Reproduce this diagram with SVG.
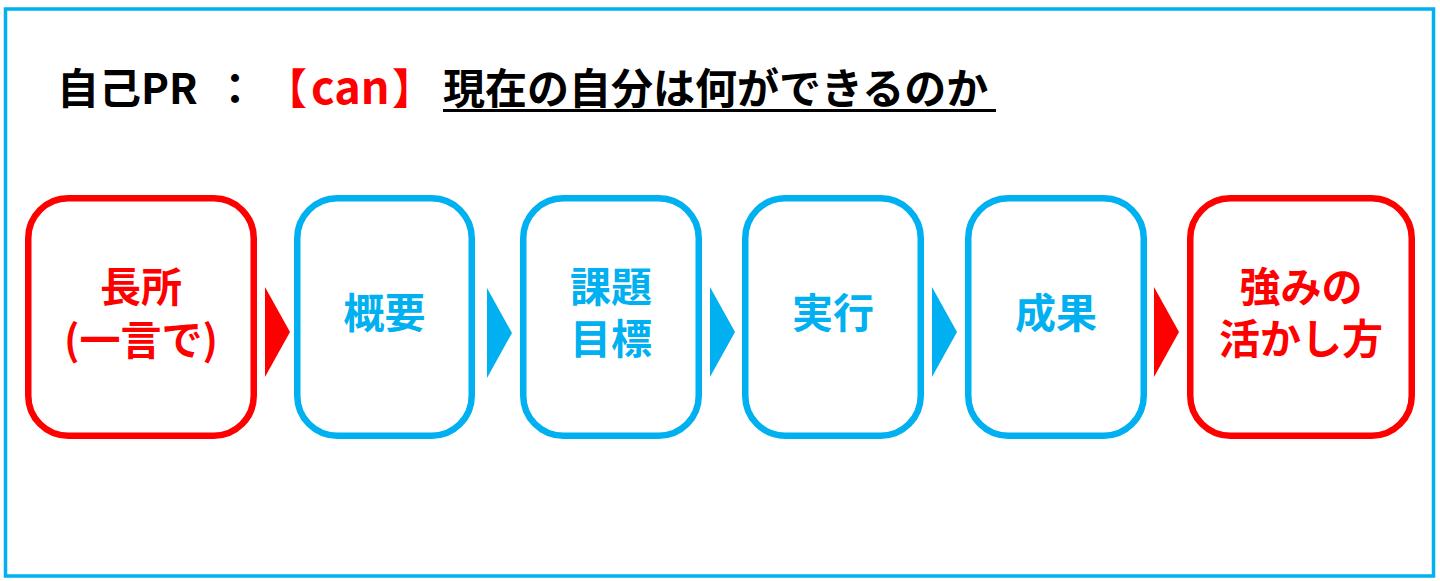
<svg xmlns="http://www.w3.org/2000/svg" width="1440" height="581" viewBox="0 0 1440 581">
<style>
.t{font-family:"Noto Sans CJK JP","Noto Sans",sans-serif;font-weight:bold;}
.title{font-size:42px;fill:#000;}
.lbl{font-size:41px;text-anchor:middle;}
.red{fill:#FF0000;}
.blue{fill:#00B0F0;}
.box{fill:#FFFFFF;stroke-width:6.5;}
.rb{stroke:#FF0000;}
.bb{stroke:#00B0F0;}
</style>
<rect x="5.5" y="9" width="1428" height="567" fill="#FFFFFF" stroke="#00B0F0" stroke-width="3.5"/>
<g id="title">
<text class="t title" x="57" y="104">自己PR</text>
<text class="t title" x="214" y="104">：</text>
<text class="t title red" x="265" y="104">【<tspan font-size="45" x="311">can</tspan><tspan x="392">】</tspan></text>
<text class="t title" x="443" y="104">現在の自分は何ができるのか</text>
<line x1="443" y1="110.5" x2="996" y2="110.5" stroke="#000" stroke-width="3"/>
</g>
<g id="connectors">
<polygon points="265,287 290,332 265,377" fill="#FF0000"/>
<polygon points="487,288 512,333 487,378" fill="#00B0F0"/>
<polygon points="710,287 735,332 710,377" fill="#00B0F0"/>
<polygon points="932,287 957,332 932,377" fill="#00B0F0"/>
<polygon points="1154,287 1179,332 1154,377" fill="#FF0000"/>
</g>
<g id="n1">
<rect class="box rb" x="28.25" y="198.25" width="225.5" height="237.5" rx="40"/>
<text class="t lbl red" x="141" y="302">長所<tspan x="141" y="355">(一言で)</tspan></text>
</g>
<g id="n2">
<rect class="box bb" x="297.25" y="198.25" width="174.5" height="237.5" rx="40"/>
<text class="t lbl blue" x="384.5" y="328">概要</text>
</g>
<g id="n3">
<rect class="box bb" x="523.25" y="198.25" width="175.5" height="237.5" rx="40"/>
<text class="t lbl blue" x="611" y="302">課題<tspan x="611" y="354">目標</tspan></text>
</g>
<g id="n4">
<rect class="box bb" x="745.25" y="198.25" width="175.5" height="237.5" rx="40"/>
<text class="t lbl blue" x="833" y="328">実行</text>
</g>
<g id="n5">
<rect class="box bb" x="968.25" y="198.25" width="175.5" height="237.5" rx="40"/>
<text class="t lbl blue" x="1056" y="328">成果</text>
</g>
<g id="n6">
<rect class="box rb" x="1190.25" y="198.25" width="221.5" height="237.5" rx="40"/>
<text class="t lbl red" x="1301" y="302">強みの<tspan x="1301" y="354">活かし方</tspan></text>
</g>
</svg>
